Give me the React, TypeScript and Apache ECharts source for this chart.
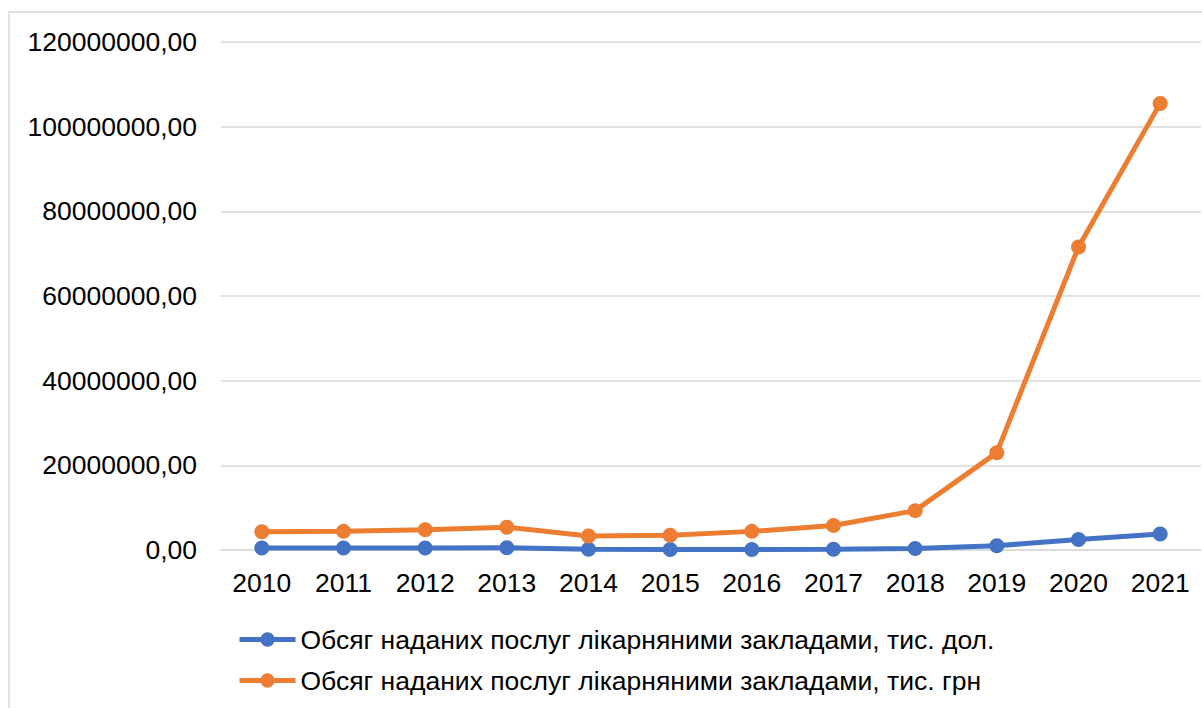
import React, { useEffect, useRef } from "react";
import * as echarts from "echarts";

const years = ["2010", "2011", "2012", "2013", "2014", "2015", "2016", "2017", "2018", "2019", "2020", "2021"];
const usdValues = [450000, 450000, 500000, 550000, 150000, 100000, 120000, 200000, 350000, 1000000, 2500000, 3800000];
const uahValues = [4300000, 4400000, 4800000, 5400000, 3300000, 3500000, 4400000, 5800000, 9300000, 23000000, 71600000, 105500000];
const usdName = "Обсяг наданих послуг лікарняними закладами, тис. дол.";
const uahName = "Обсяг наданих послуг лікарняними закладами, тис. грн";

export default function App() {
  const ref = useRef<HTMLDivElement>(null);
  useEffect(() => {
    document.body.style.margin = "0";
    if (!ref.current) return;
    const chart = echarts.init(ref.current, null, { renderer: "svg" });
    const font = "'Liberation Sans', Arial, sans-serif";
    chart.setOption({
      animation: false,
      backgroundColor: "#ffffff",
      textStyle: { fontFamily: font },
      graphic: [
        {
          type: "rect",
          shape: { x: 9, y: 12, width: 1200, height: 710 },
          style: { fill: "none", stroke: "#d9d9d9", lineWidth: 1.5 },
          silent: true,
        },
      ],
      grid: { left: 221, right: 1, top: 42, bottom: 158, containLabel: false },
      legend: {
        orient: "vertical",
        left: 232,
        top: 621,
        itemGap: 14,
        itemWidth: 56,
        itemHeight: 18,
        lineStyle: { width: 5 },
        textStyle: { fontSize: 26.5, color: "#000", fontFamily: font },
        data: [usdName, uahName],
      },
      xAxis: {
        type: "category",
        data: years,
        boundaryGap: true,
        axisLine: { lineStyle: { color: "#d9d9d9", width: 1.5 } },
        axisTick: { show: false },
        axisLabel: { fontSize: 26.5, color: "#000", margin: 19, fontFamily: font },
      },
      yAxis: {
        type: "value",
        min: 0,
        max: 120000000,
        interval: 20000000,
        axisLine: { show: false },
        axisTick: { show: false },
        splitLine: { lineStyle: { color: "#d9d9d9", width: 1.5 } },
        axisLabel: {
          fontSize: 26.5,
          color: "#000",
          margin: 24,
          fontFamily: font,
          formatter: (v: number) => v.toFixed(2).replace(".", ","),
        },
      },
      series: [
        {
          name: usdName,
          type: "line",
          data: usdValues,
          symbol: "circle",
          symbolSize: 15,
          itemStyle: { color: "#4472C4" },
          lineStyle: { color: "#4472C4", width: 5 },
        },
        {
          name: uahName,
          type: "line",
          data: uahValues,
          symbol: "circle",
          symbolSize: 15,
          itemStyle: { color: "#ED7D31" },
          lineStyle: { color: "#ED7D31", width: 5 },
        },
      ],
    });
    return () => chart.dispose();
  }, []);
  return <div ref={ref} style={{ width: 1202, height: 708 }} />;
}
